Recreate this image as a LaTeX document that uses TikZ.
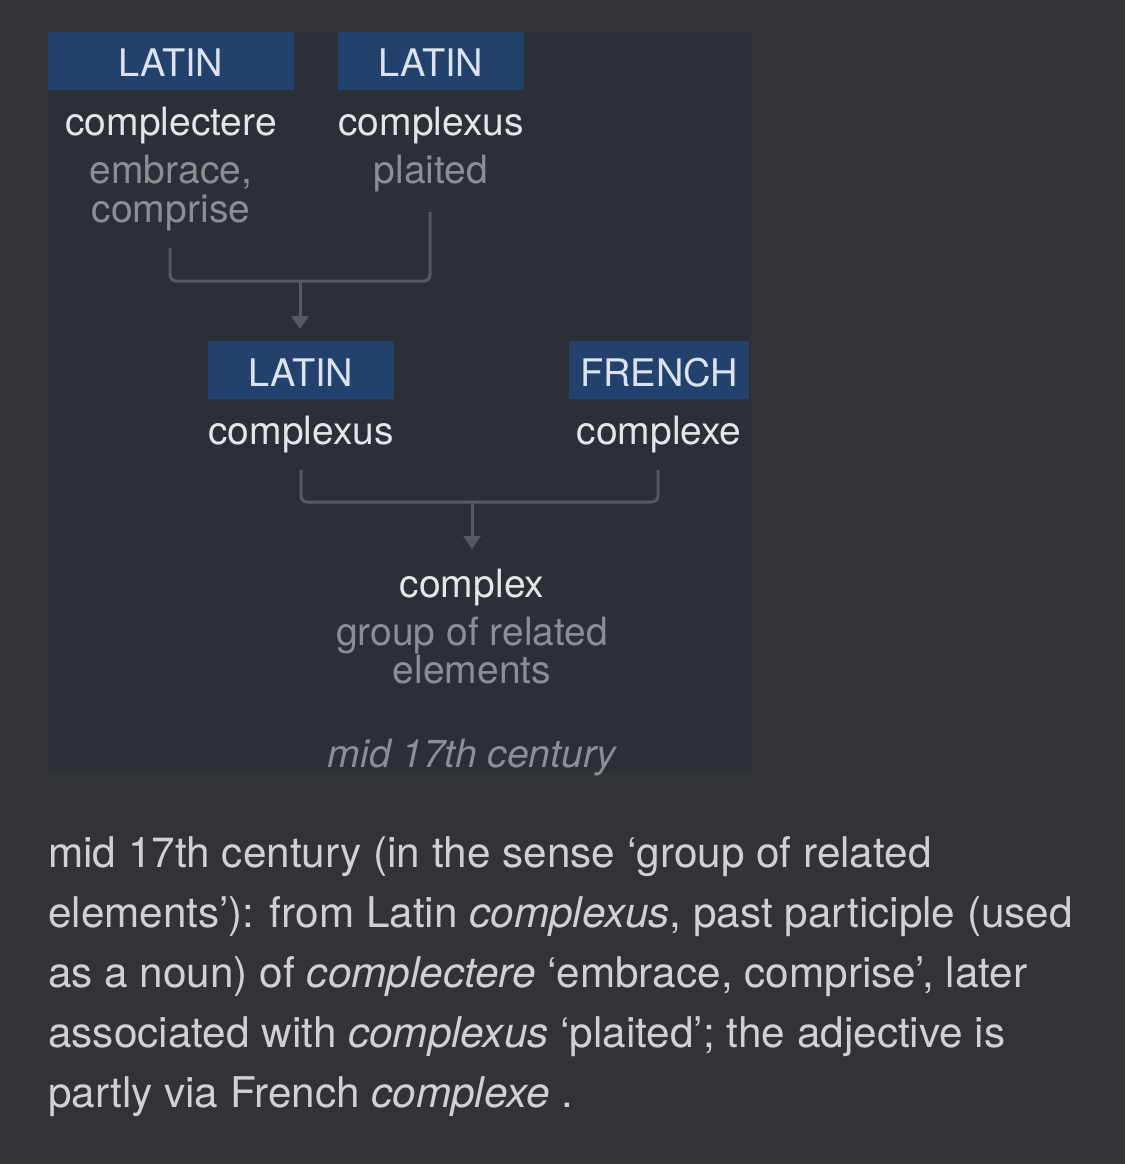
\documentclass[tikz,border=0pt]{standalone}
\usepackage{fontspec}
\setmainfont{TeX Gyre Heros}
\usetikzlibrary{arrows.meta}
\definecolor{bg}{HTML}{323337}
\definecolor{panel}{HTML}{2C2F35}
\definecolor{langblue}{HTML}{22416C}
\definecolor{hdrtext}{HTML}{DCE3EE}
\definecolor{wordtext}{HTML}{E4E6EA}
\definecolor{glosstext}{HTML}{8C8E93}
\definecolor{linecol}{HTML}{575A61}
\definecolor{bodytext}{HTML}{D0D1D5}
\tikzset{
  langbox/.style={fill=langblue, inner sep=0pt},
  hdr/.style={anchor=base, text=hdrtext, font=\fontsize{38}{38}\selectfont, inner sep=0pt},
  word/.style={anchor=base, text=wordtext, font=\fontsize{39}{39}\selectfont, inner sep=0pt},
  gloss/.style={anchor=base, text=glosstext, font=\fontsize{39}{39}\selectfont, inner sep=0pt},
  body/.style={anchor=base west, text=bodytext, font=\fontsize{42.3}{42.3}\selectfont, inner sep=0pt},
  conn/.style={draw=linecol, line width=3pt, rounded corners=6pt},
  arr/.style={draw=linecol, line width=3pt, -{Triangle[width=17pt,length=13pt]}}
}
\begin{document}
\begin{tikzpicture}[x=1pt,y=-1pt]
\useasboundingbox (0,0) rectangle (1125,1164);
\fill[bg] (0,0) rectangle (1125,1164);
\fill[panel] (48,32) rectangle (751,772);
% row 1
\fill[langbox] (48,32) rectangle (294,90);
\fill[langbox] (338,32) rectangle (524,90);
\node[hdr] (h1) at (171,77) {LATIN};
\node[hdr] (h2) at (431,77) {LATIN};
\node[word] (w1) at (171,135) {complectere};
\node[word] (w2) at (431,135) {complexus};
\node[gloss] (g1a) at (171,183) {embrace,};
\node[gloss] (g1b) at (171,222) {comprise};
\node[gloss] (g2) at (431,183) {plaited};
% connector 1
\coordinate (a1) at (170,248);
\coordinate (b1) at (430,212);
\coordinate (j1) at (300,281);
\coordinate (t1) at (300,329);
\draw[conn] (a1) |- (j1) -| (b1);
\draw[arr] (j1) -- (t1);
% row 2
\fill[langbox] (208,341) rectangle (394,399);
\fill[langbox] (569,341) rectangle (749,399);
\node[hdr] (h3) at (301,386) {LATIN};
\node[hdr] (h4) at (659,386) {FRENCH};
\node[word] (w3) at (301,444) {complexus};
\node[word] (w4) at (659,444) {complexe};
% connector 2
\coordinate (a2) at (301,470);
\coordinate (b2) at (658,470);
\coordinate (j2) at (472,502);
\coordinate (t2) at (472,549);
\draw[conn] (a2) |- (j2) -| (b2);
\draw[arr] (j2) -- (t2);
% row 3
\node[word] (w5) at (472,597) {complex};
\node[gloss] (g5a) at (472,645) {group of related};
\node[gloss] (g5b) at (472,683) {elements};
\node[gloss, font=\fontsize{39}{39}\selectfont\itshape] (date) at (472,767) {mid 17th century};
% body text
\node[body] (l1) at (48,867) {mid 17th century (in the sense ‘group of related};
\node[body] (l2) at (48,927) {elements’): from Latin \textit{complexus}, past participle (used};
\node[body] (l3) at (48,987) {as a noun) of \textit{complectere} ‘embrace, comprise’, later};
\node[body] (l4) at (48,1047) {associated with \textit{complexus} ‘plaited’; the adjective is};
\node[body] (l5) at (48,1107) {partly via French \textit{complexe} .};
\end{tikzpicture}
\end{document}
